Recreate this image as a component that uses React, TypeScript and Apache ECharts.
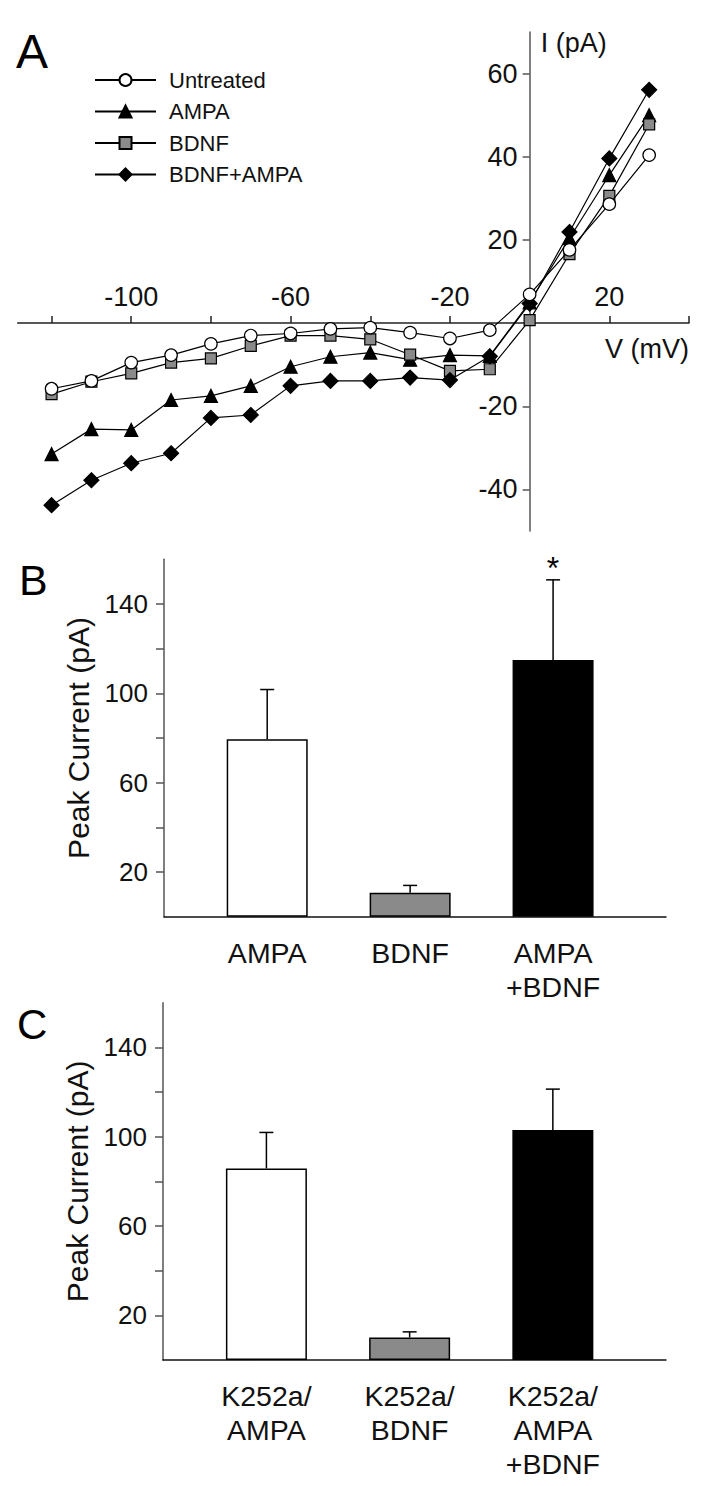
import React, { useEffect, useRef } from "react";
import * as echarts from "echarts";

const FONT = "'Liberation Sans', Arial, Helvetica, sans-serif";

// Panel A: I-V relationship
const voltages = [-120, -110, -100, -90, -80, -70, -60, -50, -40, -30, -20, -10, 0, 10, 20, 30];
const untreated = [-15.8, -13.9, -9.5, -7.7, -5.0, -3.0, -2.5, -1.4, -1.1, -2.3, -3.7, -1.7, 6.9, 17.6, 28.6, 40.4];
const ampa = [-31.5, -25.5, -25.7, -18.5, -17.5, -15.1, -10.5, -8.1, -7.1, -8.8, -7.7, -7.9, 5.0, 20.4, 35.6, 50.0];
const bdnf = [-17.1, -14.1, -12.1, -9.5, -8.5, -5.5, -3.0, -3.0, -3.9, -7.6, -11.5, -11.1, 0.7, 16.6, 30.6, 47.8];
const bdnfAmpa = [-43.8, -37.8, -33.7, -31.3, -22.8, -22.1, -15.1, -13.9, -13.9, -13.1, -13.7, -8.0, 4.7, 21.9, 39.6, 56.1];
const seriesNames = ["Untreated", "AMPA", "BDNF", "BDNF+AMPA"];
const vTicks = [-120, -100, -80, -60, -40, -20, 0, 20, 40];
const vLabels = [-100, -60, -20, 20];
const iTicks = [-40, -20, 20, 40, 60];
const vMin = -128.5;
const vMax = 40;
const iMin = -50;
const iMax = 70;

// Panel B
const bCats = ["AMPA", "BDNF", "AMPA\n+BDNF"];
const bMeans = [79.4, 10.7, 114.9];
const bErrs = [22.3, 3.3, 35.9];
const bSig = ["", "", "*"];

// Panel C
const cCats = ["K252a/\nAMPA", "K252a/\nBDNF", "K252a/\nAMPA\n+BDNF"];
const cMeans = [85.8, 10.1, 103.0];
const cErrs = [16.1, 2.5, 18.3];
const cSig = ["", "", ""];

const peakTicks = [20, 40, 60, 80, 100, 120, 140];
const peakLabels = [20, 60, 100, 140];

const barFills = ["#ffffff", "#8a8a8a", "#000000"];

// layout of panel A grid
const W = 722;
const gridA = { left: 17.7, right: 33, top: 32, height: 499 };
const plotWA = W - gridA.left - gridA.right;
// move the axes so they cross at the origin
const xAxisOffsetA = -(gridA.height * (iMax - 0)) / (iMax - iMin);
const yAxisOffsetA = -(plotWA * (0 - vMin)) / (vMax - vMin);

function lineSeries(name: string, values: number[], symbol: string, size: number, fill: string, z: number) {
  return {
    type: "line",
    name,
    xAxisIndex: 0,
    yAxisIndex: 0,
    data: voltages.map((v, i) => [v, values[i]]),
    symbol,
    symbolSize: size,
    showSymbol: true,
    z,
    lineStyle: { color: "#000", width: 1.2 },
    itemStyle: { color: fill, borderColor: "#000", borderWidth: 1.2, opacity: 1 },
    emphasis: { disabled: true },
  };
}

function barSeries(gridIdx: number, means: number[]) {
  return {
    type: "bar",
    xAxisIndex: gridIdx,
    yAxisIndex: gridIdx,
    barWidth: 81,
    data: means.map((m, i) => ({
      value: [i + 1, m],
      itemStyle: { color: barFills[i], borderColor: "#000", borderWidth: 1.5 },
    })),
    emphasis: { disabled: true },
  };
}

function errSeries(gridIdx: number, means: number[], errs: number[], sig: string[]) {
  return {
    type: "custom",
    xAxisIndex: gridIdx,
    yAxisIndex: gridIdx,
    z: 5,
    data: means.map((m, i) => [i + 1, m, m + errs[i], sig[i]]),
    renderItem: (params: any, api: any) => {
      const x = api.value(0);
      const lo = api.coord([x, api.value(1)]);
      const hi = api.coord([x, api.value(2)]);
      const mark = sig[params.dataIndex];
      const cap = 7;
      const children: any[] = [
        { type: "line", shape: { x1: lo[0], y1: lo[1], x2: hi[0], y2: hi[1] }, style: { stroke: "#000", lineWidth: 1.5 } },
        { type: "line", shape: { x1: hi[0] - cap, y1: hi[1], x2: hi[0] + cap, y2: hi[1] }, style: { stroke: "#000", lineWidth: 1.5 } },
      ];
      if (mark) {
        children.push({
          type: "text",
          style: {
            text: mark,
            x: hi[0],
            y: hi[1] - 28,
            align: "center",
            verticalAlign: "top",
            fontSize: 32,
            fontFamily: FONT,
            fill: "#000",
          },
        });
      }
      return { type: "group", children };
    },
  };
}

function barXAxis(gridIdx: number, cats: string[]) {
  return {
    gridIndex: gridIdx,
    type: "value",
    min: 0.278,
    max: 3.79,
    axisLine: { show: true, onZero: false, lineStyle: { color: "#111", width: 1.5 } },
    axisTick: { show: false },
    splitLine: { show: false },
    axisLabel: {
      customValues: [1, 2, 3],
      formatter: (v: number) => cats[Math.round(v) - 1],
      fontSize: 28.5,
      lineHeight: 34,
      margin: 19,
      color: "#111",
      fontFamily: FONT,
    },
  };
}

function barYAxis(gridIdx: number) {
  return {
    gridIndex: gridIdx,
    type: "value",
    min: 0,
    max: 160,
    axisLine: { show: true, onZero: false, lineStyle: { color: "#555", width: 1.5 } },
    axisTick: { show: true, customValues: peakTicks, length: 8, lineStyle: { color: "#555", width: 1.5 } },
    axisLabel: { customValues: peakLabels, fontSize: 26, margin: 16, color: "#111", fontFamily: FONT },
    splitLine: { show: false },
    name: "Peak Current (pA)",
    nameLocation: "middle",
    nameGap: 68,
    nameTextStyle: { fontSize: 30, color: "#111", fontFamily: FONT },
  };
}

export default function App() {
  const ref = useRef<HTMLDivElement>(null);
  useEffect(() => {
    if (!ref.current) return;
    const chart = echarts.init(ref.current, null, { renderer: "svg" });
    const option: any = {
      animation: false,
      textStyle: { fontFamily: FONT },
      grid: [
        { ...gridA, outerBoundsMode: "none" },
        { left: 164, right: 56, top: 559.3, height: 357.4, outerBoundsMode: "none" },
        { left: 163, right: 56, top: 1002.7, height: 357.3, outerBoundsMode: "none" },
      ],
      legend: {
        data: seriesNames,
        orient: "vertical",
        left: 89,
        top: 64,
        itemWidth: 61,
        itemHeight: 15,
        itemGap: 9.5,
        selectedMode: false,
        textStyle: { fontSize: 22, color: "#111", fontFamily: FONT, padding: [0, 0, 0, 8] },
      },
      xAxis: [
        {
          gridIndex: 0,
          type: "value",
          min: vMin,
          max: vMax,
          position: "top",
          offset: xAxisOffsetA,
          axisLine: { show: true, onZero: false, lineStyle: { color: "#222", width: 1.5 } },
          axisTick: { show: true, customValues: vTicks, length: 7, lineStyle: { color: "#222", width: 1.5 } },
          axisLabel: { customValues: vLabels, fontSize: 27, margin: 13, color: "#111", fontFamily: FONT },
          splitLine: { show: false },
          name: "V (mV)",
          nameLocation: "end",
          nameGap: 0,
          nameTextStyle: { fontSize: 27, color: "#111", fontFamily: FONT, align: "right", verticalAlign: "top", padding: [12, 0, 0, 0] },
        },
        barXAxis(1, bCats),
        barXAxis(2, cCats),
      ],
      yAxis: [
        {
          gridIndex: 0,
          type: "value",
          min: iMin,
          max: iMax,
          position: "left",
          offset: yAxisOffsetA,
          axisLine: { show: true, onZero: false, lineStyle: { color: "#555", width: 1.5 } },
          axisTick: { show: true, customValues: iTicks, length: 7, lineStyle: { color: "#555", width: 1.5 } },
          axisLabel: { customValues: iTicks, fontSize: 27, margin: 12, color: "#111", fontFamily: FONT },
          splitLine: { show: false },
          name: "I (pA)",
          nameLocation: "end",
          nameGap: -11,
          nameTextStyle: { fontSize: 27, color: "#111", fontFamily: FONT, align: "left", verticalAlign: "middle", padding: [0, 0, 0, 11] },
        },
        barYAxis(1),
        barYAxis(2),
      ],
      series: [
        lineSeries(seriesNames[0], untreated, "circle", 12.5, "#ffffff", 6),
        lineSeries(seriesNames[1], ampa, "triangle", 13, "#000000", 3),
        lineSeries(seriesNames[2], bdnf, "rect", 11, "#8a8a8a", 4),
        lineSeries(seriesNames[3], bdnfAmpa, "diamond", 15, "#000000", 5),
        barSeries(1, bMeans),
        errSeries(1, bMeans, bErrs, bSig),
        barSeries(2, cMeans),
        errSeries(2, cMeans, cErrs, cSig),
      ],
      graphic: [
        { type: "text", left: 16, top: 27, style: { text: "A", fontSize: 48, fontFamily: FONT, fill: "#000" } },
        { type: "text", left: 19, top: 558, style: { text: "B", fontSize: 43, fontFamily: FONT, fill: "#000" } },
        { type: "text", left: 17, top: 1003, style: { text: "C", fontSize: 42, fontFamily: FONT, fill: "#000" } },
      ],
    };
    chart.setOption(option);
    return () => chart.dispose();
  }, []);
  return <div ref={ref} style={{ position: "absolute", left: 0, top: 0, width: 722, height: 1486, background: "#fff" }} />;
}
